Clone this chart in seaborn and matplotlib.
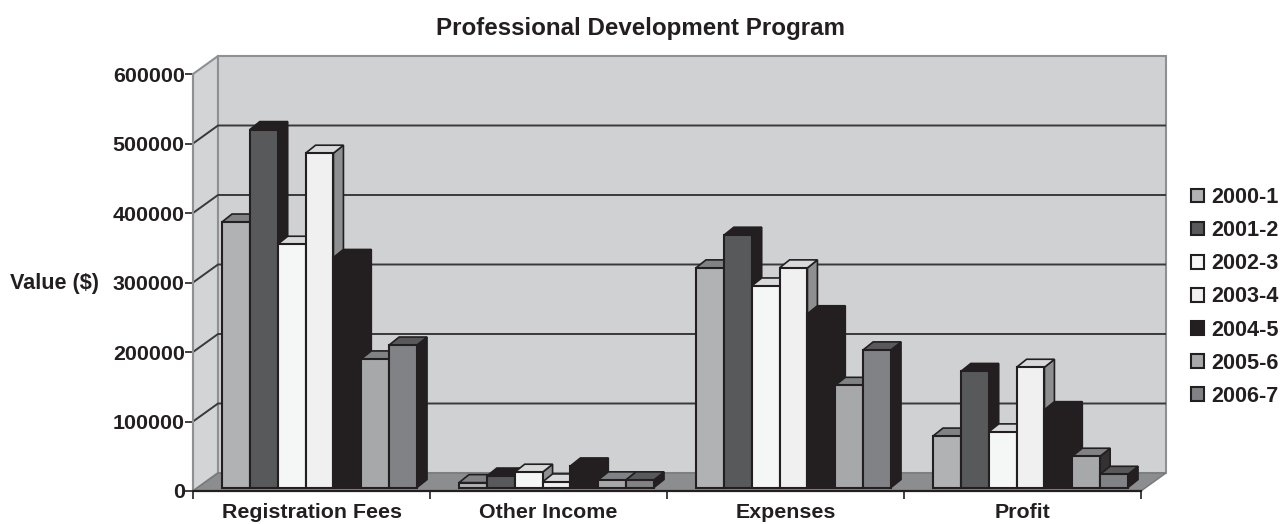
import seaborn as sns
import matplotlib.pyplot as plt
import pandas as pd
from matplotlib.patches import Polygon

categories = ["Registration Fees", "Other Income", "Expenses", "Profit"]
years = ["2000-1", "2001-2", "2002-3", "2003-4", "2004-5", "2005-6", "2006-7"]
reg_fees = [382000, 515000, 350000, 481000, 331000, 185000, 205000]
other_income = [7000, 16500, 22000, 8000, 31000, 11000, 11000]
expenses = [316000, 363000, 290000, 316000, 250000, 147000, 198000]
profit = [74000, 167000, 80000, 173000, 112000, 45000, 19000]
y_ticks = [0, 100000, 200000, 300000, 400000, 500000, 600000]

front_cols = ["#b1b2b4", "#58595b", "#f5f6f6", "#f0f0f0", "#231f20", "#a7a8aa", "#808285"]
top_cols = ["#808285", "#231f20", "#d8d9da", "#d8d9da", "#231f20", "#808285", "#58595b"]
side_cols = ["#58595b", "#231f20", "#8e8f91", "#8e8f91", "#231f20", "#333132", "#231f20"]
ink = "#231f20"

rows = []
for cat, vals in zip(categories, [reg_fees, other_income, expenses, profit]):
    for yr, v in zip(years, vals):
        rows.append({"cat": cat, "year": yr, "value": v})
df = pd.DataFrame(rows)

sns.set_style("white")
plt.rcParams["font.family"] = ["Liberation Sans", "DejaVu Sans"]
plt.rcParams["font.weight"] = "bold"

fig = plt.figure(figsize=(12.84, 5.24), dpi=100)
ax = fig.add_axes([193 / 1284, 33 / 524, 948 / 1284, 417 / 524])

sns.barplot(data=df, x="cat", y="value", hue="year", palette=front_cols, saturation=1,
            width=0.823, gap=0, edgecolor=ink, linewidth=1.5, ax=ax)
ax.set_xlim(-0.5, 3.5)
ax.set_ylim(0, 600000)

# one pixel in data units
px = 4 / 948
py = 600000 / 417
wall_dx, wall_dy = 25 * px, 18 * py
bar_dx, bar_dy = 10 * px, 8 * py
shift_x, base = 8 * px, 3.5 * py

# walls and floor
ax.add_patch(Polygon([(-0.5, 0), (-0.5, 600000), (-0.5 + wall_dx, 600000 + wall_dy), (-0.5 + wall_dx, wall_dy)],
                     fc="#d3d4d6", ec="#8f9092", lw=1.5, clip_on=False, zorder=1))
ax.add_patch(Polygon([(-0.5 + wall_dx, wall_dy), (-0.5 + wall_dx, 600000 + wall_dy),
                      (3.5 + wall_dx, 600000 + wall_dy), (3.5 + wall_dx, wall_dy)],
                     fc="#d0d1d3", ec="#8f9092", lw=1.5, clip_on=False, zorder=1))
ax.add_patch(Polygon([(-0.5, 0), (3.5, 0), (3.5 + wall_dx, wall_dy), (-0.5 + wall_dx, wall_dy)],
                     fc="#8c8d8f", ec="#77787a", lw=1, clip_on=False, zorder=1.5))

for t in y_ticks[1:-1]:
    ax.plot([-0.5, -0.5 + wall_dx, 3.5 + wall_dx], [t, t + wall_dy, t + wall_dy],
            color="#3a3839", lw=1.4, clip_on=False, zorder=2, solid_capstyle="butt")

# bars get pushed back off the front edge, then top and side faces added
for c, cont in enumerate(ax.containers):
    for p in cont:
        p.set_x(p.get_x() + shift_x)
        p.set_y(base)
        p.set_clip_on(False)
        p.set_zorder(6)
for i in range(len(categories)):
    for c, cont in enumerate(ax.containers):
        p = cont[i]
        x0, x1 = p.get_x(), p.get_x() + p.get_width()
        y1 = base + p.get_height()
        z = 3 + c * 0.1
        ax.add_patch(Polygon([(x1, base), (x1, y1), (x1 + bar_dx, y1 + bar_dy), (x1 + bar_dx, base + bar_dy)],
                             fc=side_cols[c], ec=ink, lw=1.2, clip_on=False, zorder=z))
        ax.add_patch(Polygon([(x0, y1), (x1, y1), (x1 + bar_dx, y1 + bar_dy), (x0 + bar_dx, y1 + bar_dy)],
                             fc=top_cols[c], ec=ink, lw=1.2, clip_on=False, zorder=z + 0.05))

sns.despine(ax=ax, top=True, right=True)
ax.spines["left"].set_color("#8f9092")
ax.spines["left"].set_linewidth(1.5)
ax.spines["left"].set_zorder(8)
ax.spines["bottom"].set_color(ink)
ax.spines["bottom"].set_linewidth(1.6)
ax.spines["bottom"].set_zorder(8)

ax.set_yticks(y_ticks)
ax.set_yticklabels([str(t) for t in y_ticks], fontsize=15.4, fontweight="bold", color=ink)
ax.tick_params(axis="y", length=6, width=1.2, color=ink, pad=0, left=True)
ax.set_xticks([-0.5, 0.5, 1.5, 2.5, 3.5])
ax.set_xticklabels([])
ax.set_xticks([0, 1, 2, 3], minor=True)
ax.set_xticklabels(categories, minor=True, fontsize=15.4, fontweight="bold", color=ink)
ax.tick_params(axis="x", which="major", length=6, width=1.2, color=ink, bottom=True)
ax.tick_params(axis="x", which="minor", length=0, pad=9)
ax.set_xlabel("")
ax.set_ylabel("")

fig.text(641 / 1284, 1 - 28 / 524, "Professional Development Program", fontsize=17.4,
         fontweight="bold", color=ink, ha="center", va="center")
fig.text(54 / 1284, 1 - 283 / 524, "Value ($)", fontsize=15.6, fontweight="bold",
         color=ink, ha="center", va="center")

handles, labels = ax.get_legend_handles_labels()
leg = ax.legend(handles, labels, loc="center left", bbox_to_anchor=(1191 / 1284, 1 - 297 / 524),
                bbox_transform=fig.transFigure, frameon=False, fontsize=15.6,
                handlelength=0.6, handleheight=0.6, handletextpad=0.32,
                labelspacing=0.56, borderpad=0, borderaxespad=0)
for t in leg.get_texts():
    t.set_color(ink)
    t.set_fontweight("bold")

fig.savefig("out.png", dpi=100)
